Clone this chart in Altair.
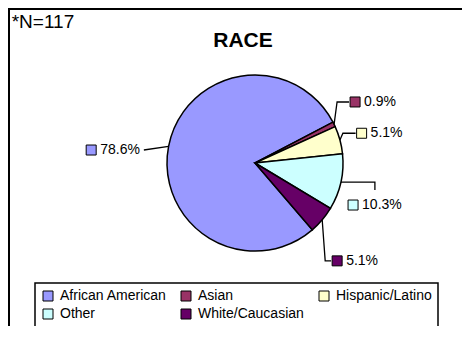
import math
import numpy as np
import pandas as pd
import altair as alt

# ---------------- data ----------------
categories = ["African American", "Asian", "Hispanic/Latino", "Other", "White/Caucasian"]
percent = [78.6, 0.9, 5.1, 10.3, 5.1]
label_text = ["78.6%", "0.9%", "5.1%", "10.3%", "5.1%"]
colors = ["#9999FF", "#993366", "#FFFFCC", "#CCFFFF", "#660066"]
note_text = "*N=117"
title_text = "RACE"

# ---------------- layout / style ----------------
W, H = 454, 318
CX, CY, R = 247, 155, 88
START = math.radians(139.4)          # angle of first slice (clockwise from 12 o'clock)
LABEL_R = 135
NUDGE = [(-9.4, 12.5), (-3.3, -1.8), (-5.7, 5.7), (-11.9, 12.8), (-3.0, 10.7)]
LEADER = ["direct", "vh", "vh", "hv", "vh"]
FONT = "Liberation Sans"
FS = 14
SQ, GAP = 10, 4
CW = {**{d: 0.556 for d in "0123456789"}, ".": 0.278, "%": 0.889}

# ---------------- derived tables ----------------
pct = np.array(percent, dtype=float)
total = pct.sum()
cum = np.cumsum(pct)
mids = START + 2 * np.pi * (cum - pct / 2) / total

pie_df = pd.DataFrame({"cat": categories, "pct": percent, "idx": list(range(len(categories)))})

sq_rows, txt_rows, lead_rows = [], [], []
for i, (cat, lab, col) in enumerate(zip(categories, label_text, colors)):
    m = mids[i]
    ex, ey = CX + R * math.sin(m), CY - R * math.cos(m)
    bx = CX + LABEL_R * math.sin(m) + NUDGE[i][0]
    by = CY - LABEL_R * math.cos(m) + NUDGE[i][1]
    tw = sum(CW[c] for c in lab) * FS
    bw = SQ + GAP + tw
    left = bx - bw / 2
    sq_rows.append({"cat": cat, "x": left + SQ / 2, "y": by, "hex": col})
    txt_rows.append({"cat": cat, "x": left + SQ + GAP, "y": by, "label": lab})
    style = LEADER[i]
    if style == "direct":
        pts = [(ex, ey), (left + bw + 4, by)]
    elif style == "vh":
        pts = [(ex, ey), (ex + 3, by), (left - 1, by)]
    else:
        pts = [(ex, ey), (bx, ey), (bx, by - 15)]
    for j, (px, py) in enumerate(pts):
        lead_rows.append({"cat": cat, "seq": j, "x": px, "y": py})

sq_df = pd.DataFrame(sq_rows)
txt_df = pd.DataFrame(txt_rows)
lead_df = pd.DataFrame(lead_rows)

xs = alt.Scale(domain=[0, W], range=[0, W], nice=False, zero=False)
ys = alt.Scale(domain=[0, H], range=[0, H], nice=False, zero=False)

pie = alt.Chart(pie_df).mark_arc(outerRadius=R, stroke="black", strokeWidth=1.5).encode(
    theta=alt.Theta("pct:Q", stack=True, scale=alt.Scale(range=[START, START + 2 * math.pi])),
    color=alt.Color(
        "cat:N",
        scale=alt.Scale(domain=categories, range=colors),
        sort=categories,
        legend=alt.Legend(
            title=None, orient="none", legendX=27, legendY=275, direction="horizontal",
            columns=3, gridAlign="all", symbolType="square", symbolSize=100,
            symbolStrokeColor="black", symbolStrokeWidth=1, labelFont=FONT,
            labelFontSize=FS, labelColor="black", labelOffset=5, columnPadding=12,
            rowPadding=4, padding=6, strokeColor="black", symbolOpacity=1,
        ),
    ),
    order=alt.Order("idx:Q"),
    x=alt.value(CX),
    y=alt.value(CY),
)

leaders = alt.Chart(lead_df).mark_line(color="black", strokeWidth=1.3).encode(
    x=alt.X("x:Q", scale=xs, axis=None),
    y=alt.Y("y:Q", scale=ys, axis=None),
    detail="cat:N",
    order="seq:Q",
)

squares = alt.Chart(sq_df).mark_square(size=SQ * SQ, stroke="black", strokeWidth=1, opacity=1).encode(
    x=alt.X("x:Q", scale=xs, axis=None),
    y=alt.Y("y:Q", scale=ys, axis=None),
    fill=alt.Fill("hex:N", scale=None),
)

texts = alt.Chart(txt_df).mark_text(align="left", baseline="middle", font=FONT, fontSize=FS, color="black").encode(
    x=alt.X("x:Q", scale=xs, axis=None),
    y=alt.Y("y:Q", scale=ys, axis=None),
    text="label:N",
)

note = alt.Chart(pd.DataFrame({"t": [note_text]})).mark_text(
    align="left", baseline="alphabetic", font=FONT, fontSize=19, color="black"
).encode(text="t:N", x=alt.value(3.7), y=alt.value(20))

border_top = alt.Chart(pd.DataFrame({"a": [0]})).mark_rule(color="black", strokeWidth=2).encode(
    x=alt.value(0), x2=alt.value(W), y=alt.value(1)
)
border_left = alt.Chart(pd.DataFrame({"a": [0]})).mark_rule(color="black", strokeWidth=2).encode(
    x=alt.value(1), y=alt.value(0), y2=alt.value(H)
)

chart = alt.layer(border_top, border_left, pie, leaders, squares, texts, note).properties(
    width=W, height=H,
    autosize=alt.AutoSizeParams(type="none"),
    padding=0,
    title=alt.TitleParams(
        title_text, font=FONT, fontSize=21, fontWeight="bold", anchor="middle",
        baseline="alphabetic", offset=0, dx=8, dy=61, color="black", frame="group",
    ),
).configure_view(stroke=None).configure_legend(strokeWidth=1.5)

chart.save("out.html", embed_options={"renderer": "svg", "actions": False})
